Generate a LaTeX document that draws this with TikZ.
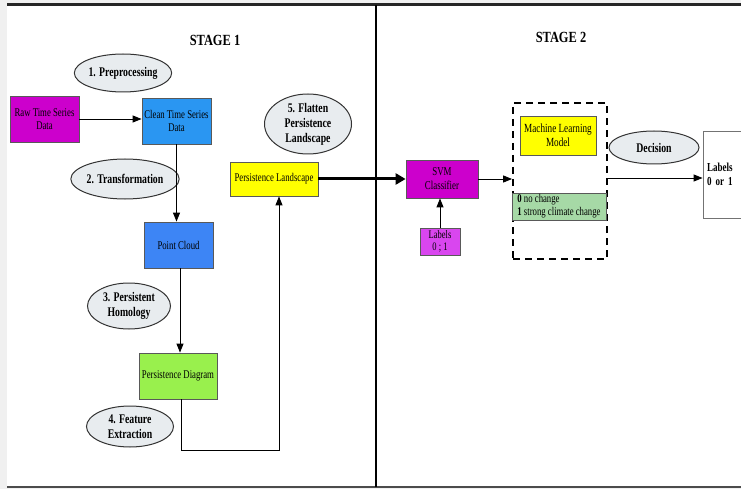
\documentclass[tikz,border=0pt]{standalone}
\usepackage{fontspec}
\setmainfont[FakeStretch=0.74]{Liberation Serif}
\newfontfamily\titlefont[FakeStretch=0.8]{Liberation Serif}
\usetikzlibrary{arrows.meta,shapes.geometric}
\definecolor{cmag}{HTML}{CC00CC}
\definecolor{cblue}{HTML}{2A96F2}
\definecolor{cblue2}{HTML}{3D85F5}
\definecolor{cgreen}{HTML}{99F04D}
\definecolor{cyel}{HTML}{FFFF00}
\definecolor{clab}{HTML}{D946EF}
\definecolor{cgr2}{HTML}{A6D9A6}
\definecolor{cell}{HTML}{E8ECEF}
\tikzset{
  box/.style={draw=black!65,line width=0.8pt,align=center,inner sep=1pt,font=\fontsize{11.8}{13.5}\selectfont},
  oval/.style={ellipse,draw=black!80,line width=1pt,fill=cell,align=center,inner sep=0pt,font=\bfseries\fontsize{13.2}{15}\selectfont},
  arr/.style={line width=0.9pt,-{Triangle[length=9pt,width=7pt]}},
  thickarr/.style={line width=3pt,-{Triangle[length=10pt,width=11pt]}},
}
\begin{document}
\begin{tikzpicture}[x=1pt,y=-1pt]
\useasboundingbox (0,0) rectangle (741,489);
\fill[black!6] (0,0) rectangle (741,489);
\fill[white] (7,5) rectangle (741,487);
\draw[line width=3pt,black!85] (7,5) -- (741,5);
\draw[line width=1.5pt,black!70] (7,487) -- (741,487);
\draw[line width=1.5pt] (376,5) -- (376,487);

\node[font=\titlefont\bfseries\fontsize{15.5}{17}\selectfont] (s1) at (215,40) {STAGE 1};
\node[font=\titlefont\bfseries\fontsize{15.5}{17}\selectfont] (s2) at (561,37) {STAGE 2};

\node[box,fill=cmag,minimum width=69pt,minimum height=46pt] (raw) at (44.5,119) {Raw Time Series\\Data};
\node[box,fill=cblue,minimum width=69pt,minimum height=46pt] (clean) at (176.5,121) {Clean Time Series\\Data};
\node[box,fill=cblue2,minimum width=69pt,minimum height=46pt] (pc) at (178.5,245) {Point Cloud};
\node[box,fill=cgreen,minimum width=78pt,minimum height=46pt] (pd) at (178,376) {Persistence Diagram};
\node[box,fill=cyel,minimum width=88pt,minimum height=34pt] (pl) at (274,179) {Persistence Landscape};
\node[box,fill=cmag,minimum width=72pt,minimum height=38pt,font=\fontsize{12}{14}\selectfont] (svm) at (442,179) {SVM\\Classifier};
\node[box,fill=clab,minimum width=40pt,minimum height=27pt,font=\fontsize{11.5}{12.5}\selectfont] (lab) at (440,241.5) {Labels\\0 ; 1};

\node[draw,line width=1.8pt,dash pattern=on 7pt off 5pt,minimum width=94pt,minimum height=156pt,inner sep=0pt] (dbox) at (560,181) {};
\node[box,fill=cyel,minimum width=76pt,minimum height=39pt,font=\fontsize{12.4}{14}\selectfont] (ml) at (558,135.5) {Machine Learning\\Model};
\node[box,fill=cgr2,minimum width=94pt,minimum height=27pt,align=left,font=\fontsize{11.8}{13}\selectfont,inner sep=1pt] (grn) at (559,206.5) {\textbf{0} no change\\\textbf{1} strong climate change};
\node[box,fill=white,draw=black!55,minimum width=42pt,minimum height=87pt,align=left,font=\bfseries\fontsize{12.2}{14}\selectfont,text width=34pt] (lab01) at (724,174.5) {Labels\\0 or 1};

\node[oval,minimum width=82pt,minimum height=38pt] (e1) at (123,73) {1. Preprocessing};
\node[oval,minimum width=83pt,minimum height=40pt] (e2) at (125,179) {2. Transformation};
\node[oval,minimum width=83pt,minimum height=46pt] (e3) at (129,306) {3. Persistent\\Homology};
\node[oval,minimum width=87pt,minimum height=41pt] (e4) at (130,426.5) {4. Feature\\Extraction};
\node[oval,minimum width=87pt,minimum height=60pt] (e5) at (308,124) {5. Flatten\\Persistence\\Landscape};
\node[oval,minimum width=90pt,minimum height=33pt] (e6) at (654,147.5) {Decision};

\draw[arr] (raw.east) -- (raw.east -| clean.west);
\draw[arr] (clean.south) -- (clean.south |- pc.north);
\draw[arr] (pc.south -| 180,0) -- (180,0 |- pd.north);
\coordinate (c1) at (181,450);
\coordinate (c2) at (279,450);
\draw[arr] (c1 |- pd.south) -- (c1) -- (c2) -- (c2 |- pl.south);
\draw[thickarr] (pl.east) -- (pl.east -| svm.west);
\draw[arr] (lab.north) -- (lab.north |- svm.south);
\draw[arr] (svm.east) -- (svm.east -| dbox.west);
\draw[arr] (dbox.east |- 0,178) -- (lab01.west |- 0,178);
\end{tikzpicture}
\end{document}
